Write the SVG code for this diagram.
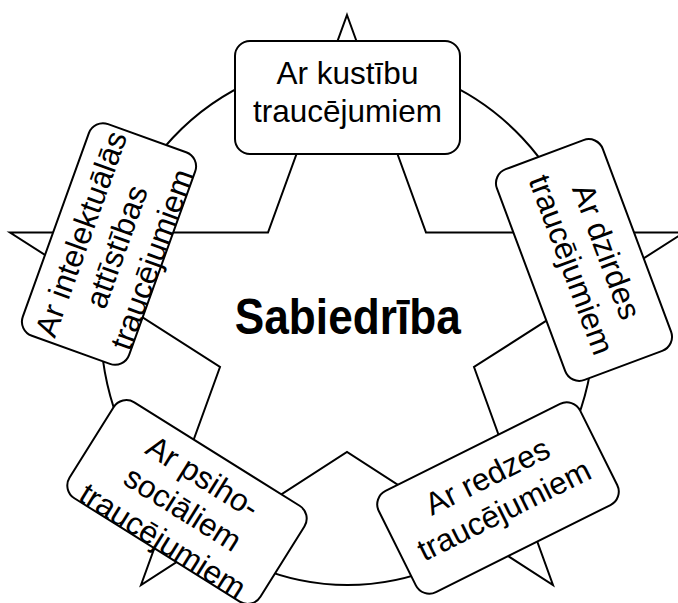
<svg xmlns="http://www.w3.org/2000/svg" width="678" height="603" viewBox="0 0 678 603">
<style>
.bg{fill:none;stroke:#000;stroke-width:2}
.box{fill:#fff;stroke:#000;stroke-width:2}
.t{font-family:"Liberation Sans",Arial,sans-serif;font-size:31.5px;fill:#000;text-anchor:middle}
.c{font-family:"Liberation Sans",Arial,sans-serif;font-size:50px;font-weight:bold;fill:#000;text-anchor:middle}
</style>
<rect width="678" height="603" fill="#fff"/>
<g id="connectors">
<ellipse class="bg" cx="347.5" cy="323" rx="247" ry="262"/>
<path class="bg" d="M347,15 L426,232.5 L684,232.5 L474,367 L553,585 L347,452 L141,585 L220,367 L10,232.5 L268,232.5 Z"/>
</g>
<g id="center">
<text class="c" x="347.8" y="334" textLength="226" lengthAdjust="spacingAndGlyphs">Sabiedrība</text>
</g>
<g id="kustibu" transform="translate(347.5,97.5)">
<rect class="box" x="-112.5" y="-56.5" width="225" height="113" rx="15"/>
<text class="t" y="-13.5">Ar kustību</text>
<text class="t" y="24.2">traucējumiem</text>
</g>
<g id="dzirdes" transform="translate(584,260) rotate(69.5)">
<rect class="box" x="-112.5" y="-56.5" width="225" height="113" rx="15"/>
<text class="t" y="-13.5">Ar dzirdes</text>
<text class="t" y="24.2">traucējumiem</text>
</g>
<g id="redzes" transform="translate(498,498) rotate(-26.5)">
<rect class="box" x="-112.5" y="-56.5" width="225" height="113" rx="15"/>
<text class="t" y="-13.5">Ar redzes</text>
<text class="t" y="24.2">traucējumiem</text>
</g>
<g id="psiho" transform="translate(187,502) rotate(32)">
<rect class="box" x="-112.5" y="-56.5" width="225" height="113" rx="15"/>
<text class="t" y="-19">Ar psiho-</text>
<text class="t" y="18.7">sociāliem</text>
<text class="t" y="56.4">traucējumiem</text>
</g>
<g id="intelektualas" transform="translate(109,244) rotate(-70.2)">
<rect class="box" x="-112.5" y="-56.5" width="225" height="113" rx="15"/>
<text class="t" y="-19">Ar intelektuālās</text>
<text class="t" y="18.7">attīstības</text>
<text class="t" y="56.4">traucējumiem</text>
</g>
</svg>
